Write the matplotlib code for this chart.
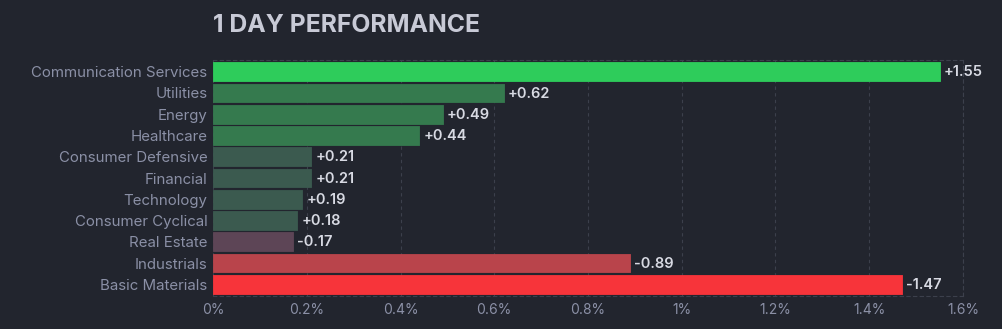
import matplotlib

matplotlib.use("Agg")

import matplotlib.pyplot as plt

sectors = ['Communication Services', 'Utilities', 'Energy', 'Healthcare',
           'Consumer Defensive', 'Financial', 'Technology', 'Consumer Cyclical',
           'Real Estate', 'Industrials', 'Basic Materials']
changes = [1.55, 0.62, 0.49, 0.44, 0.21, 0.21, 0.19, 0.18, -0.17, -0.89, -1.47]
xticks = [0, 0.2, 0.4, 0.6, 0.8, 1.0, 1.2, 1.4, 1.6]
xtick_labels = ['0%', '0.2%', '0.4%', '0.6%', '0.8%', '1%', '1.2%', '1.4%', '1.6%']

BG = '#22252e'
GRID = '#3c404c'
TICK = '#8b90a6'
VALUE = '#d8dae3'

bar_colors = ['#2ecc5b', '#357a4e', '#357a4e', '#357a4e',
              '#3b5a4f', '#3b5a4f', '#3b5a4f', '#3b5a4f',
              '#5d4556', '#b9444b', '#f7343a']

plt.rcParams['font.family'] = ['Inter', 'DejaVu Sans']

fig = plt.figure(figsize=(10.03, 3.29), dpi=100, facecolor=BG)
ax = fig.add_axes([213 / 1003, 33 / 329, 750 / 1003, 236 / 329])
ax.set_facecolor(BG)

ypos = list(range(len(sectors)))
sizes = [abs(v) for v in changes]
ax.barh(ypos, sizes, height=0.88, color=bar_colors, edgecolor=bar_colors,
        linewidth=0.6, joinstyle='round', zorder=3)

for y, v, s in zip(ypos, changes, sizes):
    ax.annotate('%+.2f' % v, (s, y), xytext=(3, -0.5), textcoords='offset points',
                va='center', ha='left', color=VALUE, fontsize=10.5,
                fontweight='semibold', zorder=4)

ax.set_xlim(0, 1.6)
ax.set_ylim(len(sectors) - 0.45, -0.55)
ax.set_yticks(ypos)
ax.set_yticklabels(sectors, color=TICK, fontsize=10.8)
ax.set_xticks(xticks)
ax.set_xticklabels(xtick_labels, color=TICK, fontsize=10)
ax.tick_params(length=0, pad=4)
ax.tick_params(axis='x', pad=5)

ax.grid(axis='x', color=GRID, linestyle=(0, (3, 3)), linewidth=0.8, zorder=0)
for side in ['top', 'bottom', 'right']:
    ax.spines[side].set_color(GRID)
    ax.spines[side].set_linestyle((0, (3, 3)))
    ax.spines[side].set_linewidth(0.8)
ax.spines['left'].set_visible(False)

fig.text(213 / 1003, 1 - 25 / 329, '1 DAY PERFORMANCE', color='#c8cad6',
         fontsize=17.8, fontweight='bold', va='center', ha='left')

fig.savefig('out.png', dpi=100, facecolor=BG)
